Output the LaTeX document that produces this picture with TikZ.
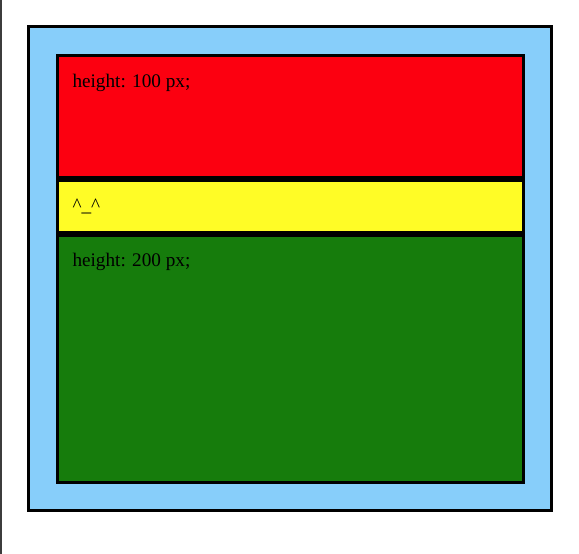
\documentclass[tikz,border=0pt]{standalone}
\usepackage{fontspec}
\setmainfont{Liberation Serif}
\definecolor{skyb}{RGB}{135,206,250}
\definecolor{boxred}{RGB}{252,0,16}
\definecolor{boxyellow}{RGB}{255,252,38}
\definecolor{boxgreen}{RGB}{22,124,12}
\definecolor{edgegray}{RGB}{60,60,60}
\begin{document}
\begin{tikzpicture}[x=1pt,y=1pt,
  boxline/.style={draw=black,line width=3pt},
  label/.style={anchor=base west,inner sep=0pt,font=\fontsize{19.2}{23}\selectfont}]
\useasboundingbox (0,0) rectangle (579,554);
\fill[white] (0,0) rectangle (579,554);
\fill[edgegray] (0,0) rectangle (2,554);
% outer container
\draw[boxline,fill=skyb] (28.5,43.5) rectangle (551.5,527.5);
% red
\draw[boxline,fill=boxred] (57.5,376.8) rectangle (523.5,498.5);
% yellow
\draw[boxline,fill=boxyellow] (57.5,321.8) rectangle (523.5,373.8);
% green
\draw[boxline,fill=boxgreen] (57.5,71.5) rectangle (523.5,318.8);
\node[label] (t1) at (72.3,466.7) {height: 100 px;};
\node[label] (t2) at (72.3,342) {\^{}\_\^{}};
\node[label] (t3) at (72.3,287) {height: 200 px;};
\end{tikzpicture}
\end{document}
